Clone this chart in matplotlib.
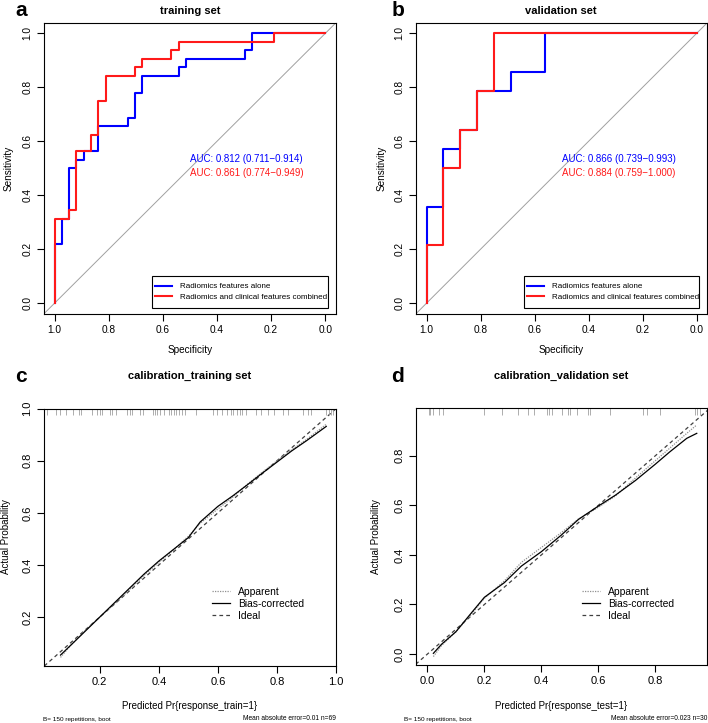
import numpy as np
import matplotlib
matplotlib.use('Agg')
import matplotlib.pyplot as plt
from matplotlib.patches import Rectangle

plt.rcParams['font.family'] = ['Liberation Sans', 'DejaVu Sans']

# ROC points (specificity, sensitivity) - training set
train_rad_spec = [1.0, 1.0, 0.973, 0.946, 0.919, 0.892, 0.838, 0.730, 0.703, 0.676, 0.541, 0.514, 0.297, 0.270, 0.0]
train_rad_sens = [0.0, 0.219, 0.3125, 0.5, 0.531, 0.5625, 0.656, 0.6875, 0.781, 0.844, 0.875, 0.906, 0.9375, 1.0, 1.0]
train_comb_spec = [1.0, 1.0, 0.946, 0.919, 0.865, 0.838, 0.811, 0.703, 0.676, 0.568, 0.541, 0.189, 0.0]
train_comb_sens = [0.0, 0.3125, 0.344, 0.5625, 0.625, 0.75, 0.844, 0.875, 0.906, 0.9375, 0.969, 1.0, 1.0]

# ROC points - validation set
val_rad_spec = [1.0, 1.0, 0.9375, 0.875, 0.8125, 0.6875, 0.5625, 0.0]
val_rad_sens = [0.0, 0.357, 0.571, 0.643, 0.786, 0.857, 1.0, 1.0]
val_comb_spec = [1.0, 1.0, 0.9375, 0.875, 0.8125, 0.75, 0.0]
val_comb_sens = [0.0, 0.214, 0.5, 0.643, 0.786, 1.0, 1.0]

auc_train = ["AUC: 0.812 (0.711\u22120.914)", "AUC: 0.861 (0.774\u22120.949)"]
auc_val = ["AUC: 0.866 (0.739\u22120.993)", "AUC: 0.884 (0.759\u22121.000)"]
roc_labels = ["Radiomics features alone", "Radiomics and clinical features combined"]

# calibration - training
cal_tr_x = [0.067, 0.1, 0.15, 0.2, 0.25, 0.3, 0.35, 0.4, 0.45, 0.48, 0.5, 0.54, 0.6, 0.65, 0.7, 0.75, 0.8, 0.85, 0.9, 0.967]
cal_tr_bias = [0.054, 0.09, 0.145, 0.2, 0.255, 0.31, 0.365, 0.415, 0.46, 0.487, 0.505, 0.565, 0.625, 0.665, 0.708, 0.752, 0.795, 0.838, 0.877, 0.932]
cal_tr_app = [0.045, 0.09, 0.148, 0.2, 0.25, 0.305, 0.36, 0.41, 0.458, 0.49, 0.51, 0.56, 0.615, 0.66, 0.71, 0.756, 0.8, 0.842, 0.882, 0.94]
rug_tr = [0.020, 0.05, 0.066, 0.084, 0.109, 0.129, 0.136, 0.175, 0.191, 0.2, 0.206, 0.234, 0.243, 0.255,
          0.291, 0.302, 0.310, 0.336, 0.348, 0.380, 0.388, 0.393, 0.405, 0.418, 0.433, 0.441, 0.45, 0.459,
          0.467, 0.478, 0.490, 0.527, 0.584, 0.598, 0.615, 0.632, 0.643, 0.652, 0.666, 0.675, 0.683, 0.694,
          0.728, 0.745, 0.768, 0.791, 0.819, 0.837, 0.888, 0.905, 0.914, 0.967, 0.975, 0.982, 0.990]

# calibration - validation
cal_va_x = [0.021, 0.05, 0.1, 0.15, 0.2, 0.27, 0.33, 0.4, 0.47, 0.53, 0.6, 0.66, 0.73, 0.8, 0.85, 0.91, 0.945]
cal_va_bias = [0.003, 0.04, 0.09, 0.16, 0.229, 0.288, 0.355, 0.413, 0.48, 0.543, 0.597, 0.641, 0.70, 0.766, 0.815, 0.87, 0.89]
cal_va_app = [-0.01, 0.035, 0.09, 0.155, 0.225, 0.295, 0.37, 0.43, 0.49, 0.545, 0.592, 0.638, 0.71, 0.78, 0.83, 0.89, 0.924]
rug_va = [0.004, 0.009, 0.019, 0.039, 0.054, 0.199, 0.261, 0.319, 0.354, 0.374, 0.419, 0.428, 0.436,
          0.472, 0.495, 0.501, 0.524, 0.565, 0.571, 0.641, 0.758, 0.770, 0.816, 0.939, 0.947, 0.957]

W, H = 708, 723
fig = plt.figure(figsize=(W / 100, H / 100), dpi=100)


def px_axes(l, t, r, b):
    return fig.add_axes([l / W, 1 - b / H, (r - l) / W, (b - t) / H])


def style(ax, size):
    for s in ax.spines.values():
        s.set_linewidth(0.8)
    ax.tick_params(length=5, width=0.8, labelsize=size, pad=3)
    ax.tick_params(axis='y', labelrotation=90)
    for t in ax.get_yticklabels():
        t.set_va('center')


def roc_panel(ax, rs, rse, cs, cse, auc):
    ax.axline((1, 0), (0, 1), color='#a0a0a0', lw=0.7)
    ax.step(rs, rse, where='post', color='#0000ff', lw=1.5, label=roc_labels[0])
    ax.step(cs, cse, where='post', color='#ff1a1a', lw=1.5, label=roc_labels[1])
    ax.set_xlim(1.04, -0.04)
    ax.set_ylim(-0.04, 1.04)
    ax.set_xticks([1.0, 0.8, 0.6, 0.4, 0.2, 0.0])
    ax.set_yticks([0.0, 0.2, 0.4, 0.6, 0.8, 1.0])
    ax.set_xticklabels(["1.0", "0.8", "0.6", "0.4", "0.2", "0.0"])
    ax.set_yticklabels(["0.0", "0.2", "0.4", "0.6", "0.8", "1.0"])
    ax.text(0.5, 0.535, auc[0], color='#0000ff', fontsize=7, ha='left', va='center')
    ax.text(0.5, 0.483, auc[1], color='#ff1a1a', fontsize=7, ha='left', va='center')
    # R-style legend box: tight on the right, roomy top/bottom
    ax.add_patch(Rectangle((0.370, 0.0206), 0.6025, 0.110, transform=ax.transAxes,
                           facecolor='white', edgecolor='black', lw=0.8, zorder=4))
    leg = ax.legend(loc='center left', bbox_to_anchor=(0.380, 0.0755), fontsize=5.75, frameon=False,
                    handlelength=2.15, handletextpad=1.0, borderpad=0, labelspacing=0.38,
                    borderaxespad=0.0)
    leg.set_zorder(5)
    style(ax, 7.3)


def cal_panel(ax, x, bias, app, rug, xlim, ylim, ticks, leg_xy):
    ax.axline((0, 0), (1, 1), color='#404040', lw=0.9, ls=(0, (3, 2.5)), label='Ideal')
    ax.plot(x, app, color='#909090', lw=0.9, ls=(0, (1, 1)), label='Apparent')
    ax.plot(x, bias, color='black', lw=0.9, label='Bias-corrected')
    ax.vlines(rug, 0.975, 1.0, transform=ax.get_xaxis_transform(), color='#a0a0a0', lw=0.6)
    ax.set_xlim(*xlim)
    ax.set_ylim(*ylim)
    ax.set_xticks(ticks[0])
    ax.set_yticks(ticks[1])
    ax.set_xticklabels(["%.1f" % v for v in ticks[0]])
    ax.set_yticklabels(["%.1f" % v for v in ticks[1]])
    h, l = ax.get_legend_handles_labels()
    order = [l.index('Apparent'), l.index('Bias-corrected'), l.index('Ideal')]
    ax.legend([h[i] for i in order], [l[i] for i in order], loc='center left',
              bbox_to_anchor=leg_xy, frameon=False, fontsize=7.4, handlelength=1.75,
              labelspacing=0.2, handletextpad=0.8, borderpad=0, borderaxespad=0)
    style(ax, 8)


ax_a = px_axes(43.7, 22.7, 336, 314)
roc_panel(ax_a, train_rad_spec, train_rad_sens, train_comb_spec, train_comb_sens, auc_train)
ax_b = px_axes(415.7, 22.7, 707.3, 314)
roc_panel(ax_b, val_rad_spec, val_rad_sens, val_comb_spec, val_comb_sens, auc_val)

ax_c = px_axes(43.7, 408.7, 336, 666)
cal_panel(ax_c, cal_tr_x, cal_tr_bias, cal_tr_app, rug_tr, (0.01, 1.0), (0.012, 1.0),
          ([0.2, 0.4, 0.6, 0.8, 1.0], [0.2, 0.4, 0.6, 0.8, 1.0]), (0.575, 0.242))
ax_d = px_axes(415.7, 408.3, 707.3, 665)
cal_panel(ax_d, cal_va_x, cal_va_bias, cal_va_app, rug_va, (-0.041, 0.982), (-0.044, 0.991),
          ([0.0, 0.2, 0.4, 0.6, 0.8], [0.0, 0.2, 0.4, 0.6, 0.8]), (0.571, 0.239))

# panel letters and titles
fig.text(15 / W, 1 - 10 / H, "a", fontsize=15, fontweight='bold', ha='left', va='center')
fig.text(392 / W, 1 - 10 / H, "b", fontsize=15, fontweight='bold', ha='left', va='center')
fig.text(15 / W, 1 - 376 / H, "c", fontsize=15, fontweight='bold', ha='left', va='center')
fig.text(391 / W, 1 - 376 / H, "d", fontsize=15, fontweight='bold', ha='left', va='center')

fig.text(190 / W, 1 - 11 / H, "training set", fontsize=8, fontweight='bold', ha='center', va='center')
fig.text(561 / W, 1 - 11 / H, "validation set", fontsize=8, fontweight='bold', ha='center', va='center')
fig.text(190 / W, 1 - 376 / H, "calibration_training set", fontsize=8, fontweight='bold', ha='center', va='center')
fig.text(561 / W, 1 - 376 / H, "calibration_validation set", fontsize=8, fontweight='bold', ha='center', va='center')

# axis labels
fig.text(190 / W, 1 - 350 / H, "Specificity", fontsize=7.2, ha='center', va='center')
fig.text(561 / W, 1 - 350 / H, "Specificity", fontsize=7.2, ha='center', va='center')
fig.text(9 / W, 1 - 168 / H, "Sensitivity", fontsize=7.2, ha='center', va='center', rotation=90)
fig.text(382 / W, 1 - 168 / H, "Sensitivity", fontsize=7.2, ha='center', va='center', rotation=90)

fig.text(190 / W, 1 - 706 / H, "Predicted Pr{response_train=1}", fontsize=7.0, ha='center', va='center')
fig.text(561 / W, 1 - 706 / H, "Predicted Pr{response_test=1}", fontsize=7.0, ha='center', va='center')
fig.text(6 / W, 1 - 537 / H, "Actual Probability", fontsize=7.0, ha='center', va='center', rotation=90)
fig.text(376 / W, 1 - 537 / H, "Actual Probability", fontsize=7.0, ha='center', va='center', rotation=90)

fig.text(43 / W, 1 - 719 / H, "B= 150 repetitions, boot", fontsize=4.6, ha='left', va='center')
fig.text(336 / W, 1 - 719 / H, "Mean absolute error=0.01 n=69", fontsize=4.8, ha='right', va='center')
fig.text(404 / W, 1 - 719 / H, "B= 150 repetitions, boot", fontsize=4.6, ha='left', va='center')
fig.text(707 / W, 1 - 719 / H, "Mean absolute error=0.023 n=30", fontsize=4.8, ha='right', va='center')

fig.savefig("out.png", dpi=100)
